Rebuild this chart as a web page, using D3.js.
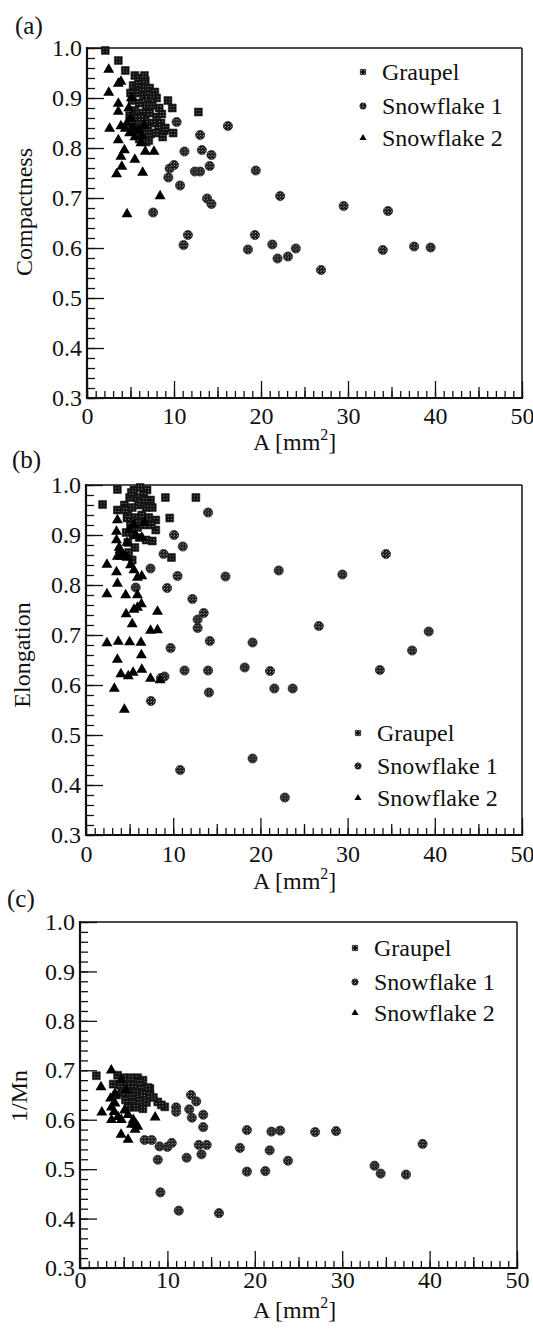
<!DOCTYPE html>
<html>
<head>
<meta charset="utf-8">
<script src="https://cdn.jsdelivr.net/npm/d3@7"></script>
<style>
  body { margin: 0; background: #fff; }
  svg text { font-family: "Liberation Serif", "DejaVu Serif", "Times New Roman", serif; fill: #111; }
</style>
</head>
<body>
<svg id="fig" width="533" height="1334"></svg>
<script>
/**********************
 Data (A [mm2], value)
**********************/
var seriesNames = ['Graupel', 'Snowflake 1', 'Snowflake 2'];
var xTicks = [0, 10, 20, 30, 40, 50];
var yTicks = [0.3, 0.4, 0.5, 0.6, 0.7, 0.8, 0.9, 1.0];

// (a) Compactness
var compactGraupel = [
  [2.1,0.995],[3.6,0.975],[4.4,0.955],[5.5,0.945],[6.0,0.94],[6.7,0.935],[5.3,0.925],[6.3,0.92],
  [7.2,0.92],[7.8,0.912],[5.6,0.91],[6.5,0.905],[7.0,0.9],[8.0,0.9],[5.2,0.895],[6.0,0.89],
  [6.8,0.885],[7.5,0.885],[8.3,0.88],[5.5,0.875],[6.4,0.87],[7.2,0.87],[8.0,0.862],[4.9,0.865],
  [5.8,0.86],[6.7,0.855],[7.6,0.85],[8.5,0.85],[5.2,0.848],[6.1,0.843],[7.0,0.84],[8.2,0.838],
  [8.9,0.835],[5.6,0.835],[6.4,0.828],[7.3,0.828],[6.0,0.818],[6.8,0.812],[9.3,0.895],[9.8,0.88],
  [9.0,0.84],[9.9,0.83],[12.8,0.872],[5.9,0.928],[7.5,0.905],[6.2,0.86],[7.9,0.83],[8.6,0.868],
  [8.7,0.822],[6.6,0.945],[5.0,0.91],[7.1,0.815]
];
var compactSnow1 = [
  [10.3,0.852],[13.0,0.826],[16.2,0.844],[11.2,0.793],[13.2,0.796],[14.3,0.786],[14.1,0.764],
  [9.5,0.759],[10.0,0.766],[9.35,0.741],[12.4,0.753],[13.0,0.753],[10.7,0.725],[13.8,0.699],
  [14.3,0.688],[7.6,0.671],[11.6,0.626],[11.1,0.606],[18.5,0.597],[19.3,0.626],[19.4,0.755],
  [22.2,0.704],[29.5,0.684],[34.6,0.674],[21.3,0.607],[21.9,0.579],[23.1,0.583],[24.0,0.599],
  [26.9,0.556],[34.0,0.596],[37.6,0.603],[39.5,0.601]
];
var compactSnow2 = [
  [2.5,0.957],[2.5,0.911],[3.6,0.929],[3.9,0.933],[3.6,0.889],[3.6,0.873],[2.6,0.839],[3.9,0.844],
  [4.4,0.839],[3.6,0.816],[4.3,0.796],[3.9,0.783],[5.5,0.777],[4.0,0.763],[3.4,0.748],[6.4,0.751],
  [6.7,0.793],[7.7,0.793],[8.4,0.704],[4.6,0.668],[4.8,0.88],[5.0,0.86],[4.6,0.85],[5.3,0.84],
  [5.9,0.835],[6.3,0.825],[6.2,0.81],[5.5,0.822],[4.9,0.83],[6.6,0.845],[5.1,0.9]
];

// (b) Elongation
var elongGraupel = [
  [1.9,0.961],[3.6,0.991],[3.6,0.95],[9.1,0.975],[12.6,0.975],[9.6,0.934],[8.0,0.93],[8.0,0.91],
  [7.6,0.888],[9.8,0.855],[4.7,0.934],[5.5,0.99],[6.2,0.995],[7.0,0.99],[5.0,0.975],[5.8,0.975],
  [6.6,0.98],[7.4,0.97],[4.4,0.96],[5.3,0.955],[6.0,0.96],[6.9,0.955],[7.6,0.955],[4.8,0.94],
  [5.6,0.935],[6.4,0.94],[7.2,0.935],[5.1,0.92],[5.9,0.915],[6.6,0.92],[5.4,0.9],[6.1,0.895],
  [4.8,0.885],[5.6,0.875],[6.9,0.89],[4.9,0.865],[5.3,0.85],[7.5,0.92],[4.5,0.95],[6.3,0.965],
  [6.8,0.97],[5.2,0.985],[6.0,0.925],[4.6,0.905]
];
var elongSnow1 = [
  [14.0,0.945],[10.1,0.9],[11.1,0.877],[8.9,0.862],[7.4,0.833],[10.5,0.818],[16.0,0.817],
  [5.7,0.795],[9.3,0.794],[12.2,0.772],[13.5,0.744],[12.8,0.731],[12.8,0.714],[14.2,0.688],
  [9.7,0.674],[11.3,0.629],[14.0,0.629],[9.0,0.617],[8.6,0.614],[18.2,0.635],[14.1,0.585],
  [7.45,0.568],[10.8,0.43],[19.1,0.685],[19.1,0.453],[34.4,0.862],[22.1,0.829],[29.4,0.821],
  [26.7,0.718],[39.3,0.707],[37.4,0.669],[21.1,0.628],[21.6,0.593],[23.7,0.593],[33.7,0.63],
  [22.8,0.375]
];
var elongSnow2 = [
  [3.6,0.93],[3.5,0.907],[3.5,0.89],[3.8,0.875],[3.6,0.857],[4.0,0.857],[2.4,0.841],[3.5,0.826],
  [3.6,0.803],[2.4,0.782],[4.55,0.78],[5.9,0.78],[6.35,0.762],[5.5,0.751],[5.9,0.755],[4.6,0.742],
  [8.2,0.747],[5.3,0.722],[7.4,0.709],[8.2,0.71],[2.4,0.684],[3.7,0.687],[5.0,0.686],[6.3,0.685],
  [3.6,0.651],[6.35,0.66],[4.0,0.622],[4.85,0.618],[5.4,0.625],[6.4,0.631],[7.4,0.613],[8.5,0.61],
  [3.25,0.593],[4.4,0.551],[5.0,0.91],[5.7,0.9],[6.4,0.895],[4.3,0.86],[4.7,0.855],[5.1,0.84],
  [5.5,0.83],[5.9,0.815],[6.4,0.818],[3.9,0.87],[4.7,0.885],[5.5,0.92],[6.7,0.925]
];

// (c) 1/Mn
var mnGraupel = [
  [1.87,0.689],[8.0,0.663],[8.9,0.636],[9.7,0.626],[4.3,0.69],[5.0,0.685],[5.8,0.685],[6.6,0.685],
  [7.2,0.68],[4.6,0.67],[5.4,0.67],[6.2,0.67],[7.0,0.668],[7.8,0.665],[4.8,0.655],[5.6,0.655],
  [6.4,0.655],[7.2,0.652],[8.0,0.65],[5.2,0.64],[6.0,0.64],[6.8,0.638],[7.6,0.635],[5.5,0.625],
  [6.4,0.625],[7.2,0.622],[4.2,0.65],[3.8,0.672],[8.4,0.645],[9.3,0.63],[6.8,0.676],[5.9,0.648]
];
var mnSnow1 = [
  [11.0,0.625],[11.0,0.616],[12.7,0.65],[13.3,0.637],[12.5,0.621],[12.8,0.604],[14.1,0.61],
  [14.1,0.585],[13.6,0.549],[14.5,0.549],[13.9,0.53],[7.4,0.559],[8.2,0.559],[9.1,0.546],
  [10.0,0.545],[10.5,0.553],[8.9,0.519],[12.2,0.523],[9.2,0.453],[11.3,0.416],[15.9,0.411],
  [19.1,0.579],[18.3,0.543],[19.1,0.495],[21.2,0.496],[21.7,0.538],[21.9,0.576],[22.9,0.578],
  [26.9,0.575],[29.3,0.577],[23.8,0.517],[33.7,0.507],[34.4,0.491],[37.3,0.489],[39.2,0.551]
];
var mnSnow2 = [
  [3.58,0.7],[2.4,0.666],[2.5,0.615],[3.6,0.625],[4.0,0.633],[3.6,0.6],[4.7,0.57],[5.5,0.56],
  [8.6,0.605],[5.9,0.59],[6.3,0.58],[6.4,0.59],[6.1,0.6],[4.35,0.606],[4.73,0.6],[5.5,0.61],
  [5.1,0.619],[4.0,0.653],[3.5,0.643],[3.9,0.616],[6.6,0.586],[4.7,0.68],[5.3,0.66]
];


/**********************
 Layout of the 3 panels
**********************/
var FONT = '"Liberation Serif", "DejaVu Serif", "Times New Roman", serif';

var panels = [
  {tag: '(a)', tagX: 15, tagY: 34, yLabel: 'Compactness', yLabelX: 24, yLabelY: 212,
   left: 87, right: 522, top: 48, bottom: 398, xPad: 9, xLabelY: 450,
   legendX: 363, legendY: [72, 106, 138],
   series: [compactGraupel, compactSnow1, compactSnow2]},
  {tag: '(b)', tagX: 12, tagY: 468, yLabel: 'Elongation', yLabelX: 22, yLabelY: 655,
   left: 86, right: 522, top: 485, bottom: 835, xPad: 10, xLabelY: 889,
   legendX: 358, legendY: [733, 766, 798],
   series: [elongGraupel, elongSnow1, elongSnow2]},
  {tag: '(c)', tagX: 7, tagY: 907, yLabel: '1/Mn', yLabelX: 19, yLabelY: 1096,
   left: 80, right: 517, top: 922, bottom: 1268, xPad: 3, xLabelY: 1318,
   legendX: 355, legendY: [948, 982, 1013],
   series: [mnGraupel, mnSnow1, mnSnow2]}
];

var svg = d3.select('#fig').attr('font-family', FONT);
svg.append('rect').attr('width', 533).attr('height', 1334).attr('fill', '#fff');

// halftone-ish fills for the printed markers
var defs = svg.append('defs');
var hatch = defs.append('pattern').attr('id', 'hatch')
    .attr('width', 3).attr('height', 3).attr('patternUnits', 'userSpaceOnUse');
hatch.append('rect').attr('width', 3).attr('height', 3).attr('fill', '#111');
hatch.append('rect').attr('x', 1).attr('y', 1).attr('width', 1).attr('height', 1).attr('fill', '#8a8a8a');
var dots = defs.append('pattern').attr('id', 'dots')
    .attr('width', 3).attr('height', 3).attr('patternUnits', 'userSpaceOnUse');
dots.append('rect').attr('width', 3).attr('height', 3).attr('fill', '#1a1a1a');
dots.append('rect').attr('width', 1).attr('height', 1).attr('fill', '#a0a0a0');
dots.append('rect').attr('x', 2).attr('y', 1).attr('width', 1).attr('height', 1).attr('fill', '#707070');

function drawMarker(sel, kind, big) {
  if (kind === 0) {
    sel.append('path')
      .attr('d', d3.symbol(d3.symbolSquare, big ? 62 : 28)())
      .attr('fill', 'url(#hatch)').attr('stroke', '#1a1a1a').attr('stroke-width', 0.6);
  } else if (kind === 1) {
    sel.append('circle').attr('r', big ? 4.6 : 3.2)
      .attr('fill', 'url(#dots)').attr('stroke', '#222').attr('stroke-width', 0.7);
  } else {
    sel.append('path')
      .attr('d', d3.symbol(d3.symbolTriangle, big ? 52 : 22)())
      .attr('fill', '#000');
  }
}

panels.forEach(drawPanel);

function drawPanel(p) {
  var x = d3.scaleLinear().domain([0, 50]).range([p.left, p.right]);
  var y = d3.scaleLinear().domain([0.3, 1.0]).range([p.bottom, p.top]);
  var g = svg.append('g');

  // y ticks (inward): minor every 0.02, major every 0.1
  g.append('g').attr('transform', 'translate(' + p.left + ',0)')
    .call(d3.axisLeft(y).tickValues(d3.range(0.3, 1.0001, 0.02)).tickSize(-8).tickFormat(''))
    .call(function(a) { a.select('.domain').remove(); });
  var yAxisG = g.append('g').attr('transform', 'translate(' + p.left + ',0)')
    .call(d3.axisLeft(y).tickValues(yTicks).tickSize(-17).tickPadding(5).tickFormat(d3.format('.1f')))
    .call(function(a) { a.select('.domain').remove(); });
  yAxisG.attr('font-size', 24).attr('font-family', FONT);

  // x ticks (inward): minor every 1, medium every 5, major every 10
  g.append('g').attr('transform', 'translate(0,' + p.bottom + ')')
    .call(d3.axisBottom(x).tickValues(d3.range(0, 51, 1)).tickSize(-7).tickFormat(''))
    .call(function(a) { a.select('.domain').remove(); });
  g.append('g').attr('transform', 'translate(0,' + p.bottom + ')')
    .call(d3.axisBottom(x).tickValues([5, 15, 25, 35, 45]).tickSize(-11).tickFormat(''))
    .call(function(a) { a.select('.domain').remove(); });
  var xAxisG = g.append('g').attr('transform', 'translate(0,' + p.bottom + ')')
    .call(d3.axisBottom(x).tickValues(xTicks).tickSize(-17).tickPadding(p.xPad))
    .call(function(a) { a.select('.domain').remove(); });
  xAxisG.attr('font-size', 24).attr('font-family', FONT);

  g.selectAll('.tick line').attr('stroke', '#111').attr('stroke-width', 1.3);
  g.selectAll('.tick text').attr('fill', '#111');

  // frame
  g.append('line').attr('x1', p.left).attr('x2', p.right).attr('y1', p.top).attr('y2', p.top)
    .attr('stroke', '#111').attr('stroke-width', 1.5);
  g.append('line').attr('x1', p.right).attr('x2', p.right).attr('y1', p.top).attr('y2', p.bottom)
    .attr('stroke', '#111').attr('stroke-width', 1.5);
  g.append('line').attr('x1', p.left).attr('x2', p.left).attr('y1', p.top - 1).attr('y2', p.bottom + 1)
    .attr('stroke', '#111').attr('stroke-width', 2.2);
  g.append('line').attr('x1', p.left - 1).attr('x2', p.right + 1).attr('y1', p.bottom).attr('y2', p.bottom)
    .attr('stroke', '#111').attr('stroke-width', 2.2);

  // points
  p.series.forEach(function(data, k) {
    g.append('g').selectAll('g.pt')
      .data(data)
      .enter().append('g')
      .attr('class', 'pt')
      .attr('transform', function(d) { return 'translate(' + [x(d[0]), y(d[1])] + ')'; })
      .each(function() { drawMarker(d3.select(this), k, true); });
  });

  // legend
  seriesNames.forEach(function(name, k) {
    var item = g.append('g').attr('transform', 'translate(' + [p.legendX, p.legendY[k]] + ')');
    drawMarker(item, k, false);
    item.append('text').attr('x', 19).attr('dy', '0.33em')
      .attr('font-family', FONT).attr('font-size', 24).text(name);
  });

  // labels
  var xl = g.append('text').attr('x', 253).attr('y', p.xLabelY)
    .attr('font-family', FONT).attr('font-size', 24);
  xl.append('tspan').text('A [mm');
  xl.append('tspan').attr('font-size', 16).attr('dy', -10).text('2');
  xl.append('tspan').attr('dy', 10).text(']');

  g.append('text')
    .attr('transform', 'translate(' + [p.yLabelX, p.yLabelY] + ') rotate(-90)')
    .attr('text-anchor', 'middle').attr('dy', '0.35em')
    .attr('font-family', FONT).attr('font-size', 24).text(p.yLabel);

  g.append('text').attr('x', p.tagX).attr('y', p.tagY)
    .attr('font-family', FONT).attr('font-size', 25).text(p.tag);
}
</script>
</body>
</html>
